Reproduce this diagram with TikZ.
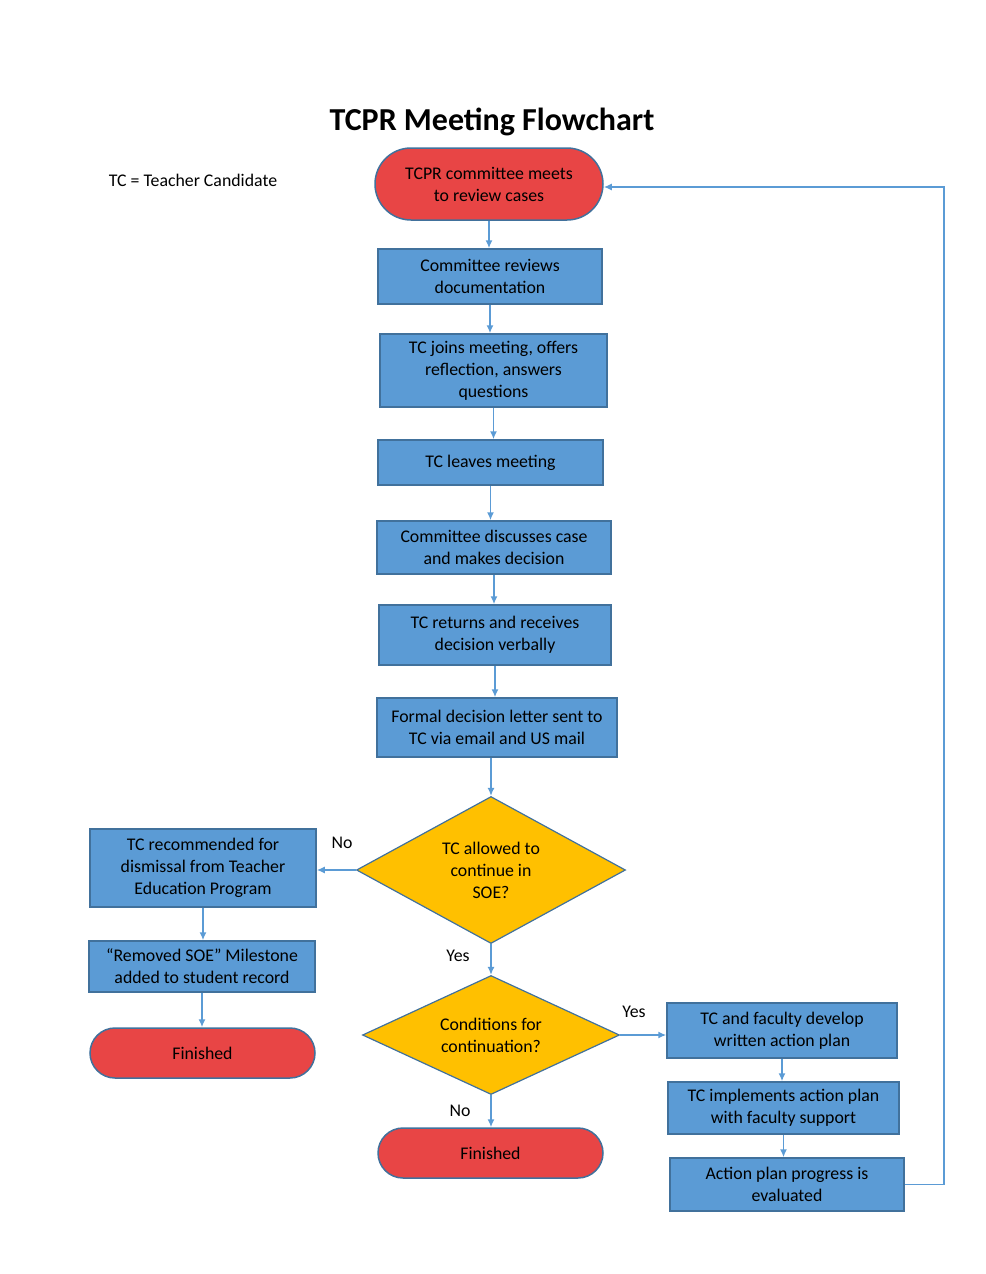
\documentclass[tikz,border=0pt]{standalone}
\usepackage{fontspec}
\setmainfont{Carlito}
\usepackage{tikz}
\usetikzlibrary{arrows.meta,shapes.geometric,shapes.misc}
\definecolor{boxblue}{HTML}{5B9BD5}
\definecolor{edgeblue}{HTML}{41719C}
\definecolor{termred}{HTML}{E84545}
\definecolor{decgold}{HTML}{FFC000}

\begin{document}
\begin{tikzpicture}[x=1pt,y=-1pt,
    every node/.style={font=\fontsize{17.8}{22}\selectfont,align=center,inner sep=0pt},
    proc/.style={rectangle,draw=edgeblue,line width=1.5pt,fill=boxblue},
    term/.style={rounded rectangle,draw=edgeblue,line width=1.5pt,fill=termred},
    decide/.style={diamond,aspect=2.1,draw=edgeblue,line width=1.2pt,fill=decgold},
    conn/.style={draw=boxblue,line width=1.5pt,-{Latex[length=8pt,width=7pt]}}]
  \useasboundingbox (0,0) rectangle (985,1274);
  % title and key
  \node[font=\fontsize{32}{36}\selectfont\bfseries](title)at(492,122){TCPR Meeting Flowchart};
  \node(key)at(193,180){TC = Teacher Candidate};
  % main column
  \node[term,minimum width=228,minimum height=72](start)at(489,184){TCPR committee meets\\to review cases};
  \node[proc,minimum width=224,minimum height=55](review)at(490,276.5){Committee reviews\\documentation};
  \node[proc,minimum width=227,minimum height=73](joins)at(493.5,370.5){TC joins meeting, offers\\reflection, answers\\questions};
  \node[proc,minimum width=225,minimum height=45](leaves)at(490.5,462.5){TC leaves meeting};
  \node[proc,minimum width=234,minimum height=53](discuss)at(494,547.5){Committee discusses case\\and makes decision};
  \node[proc,minimum width=232,minimum height=60](returns)at(495,635){TC returns and receives\\decision verbally};
  \node[proc,minimum width=240,minimum height=59](letter)at(497,727.5){Formal decision letter sent to\\TC via email and US mail};
  \node[decide,minimum width=269,minimum height=147](allow)at(491,870){TC allowed to\\continue in\\SOE?};
  \node[decide,minimum width=257,minimum height=119](cond)at(491,1035){Conditions for\\continuation?};
  \node[term,minimum width=225,minimum height=50](fin)at(490.5,1153){Finished};
  % left branch
  \node[proc,minimum width=226,minimum height=78](dismiss)at(203,868){TC recommended for\\dismissal from Teacher\\Education Program};
  \node[proc,minimum width=226,minimum height=51](removed)at(202,966.5){“Removed SOE” Milestone\\added to student record};
  \node[term,minimum width=225,minimum height=50](finleft)at(202.5,1053){Finished};
  % right branch
  \node[proc,minimum width=230,minimum height=55](plan)at(782,1030.5){TC and faculty develop\\written action plan};
  \node[proc,minimum width=231,minimum height=52](impl)at(783.5,1108){TC implements action plan\\with faculty support};
  \node[proc,minimum width=234,minimum height=53](eval)at(787,1184.5){Action plan progress is\\evaluated};
  \coordinate(loopx)at(944,0);
  % branch labels
  \node(no1)at(342,843){No};
  \node(yes1)at(458,956){Yes};
  \node(yes2)at(634,1012){Yes};
  \node(no2)at(460,1111){No};
  % connectors
  \draw[conn] (start.south) -- (start.south |- review.north);
  \draw[conn] (review.south) -- (review.south |- joins.north);
  \draw[conn] (joins.south) -- (joins.south |- leaves.north);
  \draw[conn] (leaves.south) -- (leaves.south |- discuss.north);
  \draw[conn] (discuss.south) -- (discuss.south |- returns.north);
  \draw[conn] (returns.south) -- (returns.south |- letter.north);
  \draw[conn] (letter.south -| allow.north) -- (allow.north);
  \draw[conn] (allow.south) -- (cond.north);
  \draw[conn] (cond.south) -- (fin.north -| cond.south);
  \draw[conn] (allow.west) -- (allow.west -| dismiss.east);
  \draw[conn] (dismiss.south) -- (dismiss.south |- removed.north);
  \draw[conn] (removed.south) -- (removed.south |- finleft.north);
  \draw[conn] (cond.east) -- (cond.east -| plan.west);
  \draw[conn] (plan.south) -- (plan.south |- impl.north);
  \draw[conn] (impl.south) -- (impl.south |- eval.north);
  \draw[conn] (eval.east) -- (eval.east -| loopx) |- ([yshift=-3pt]start.east);
\end{tikzpicture}
\end{document}
